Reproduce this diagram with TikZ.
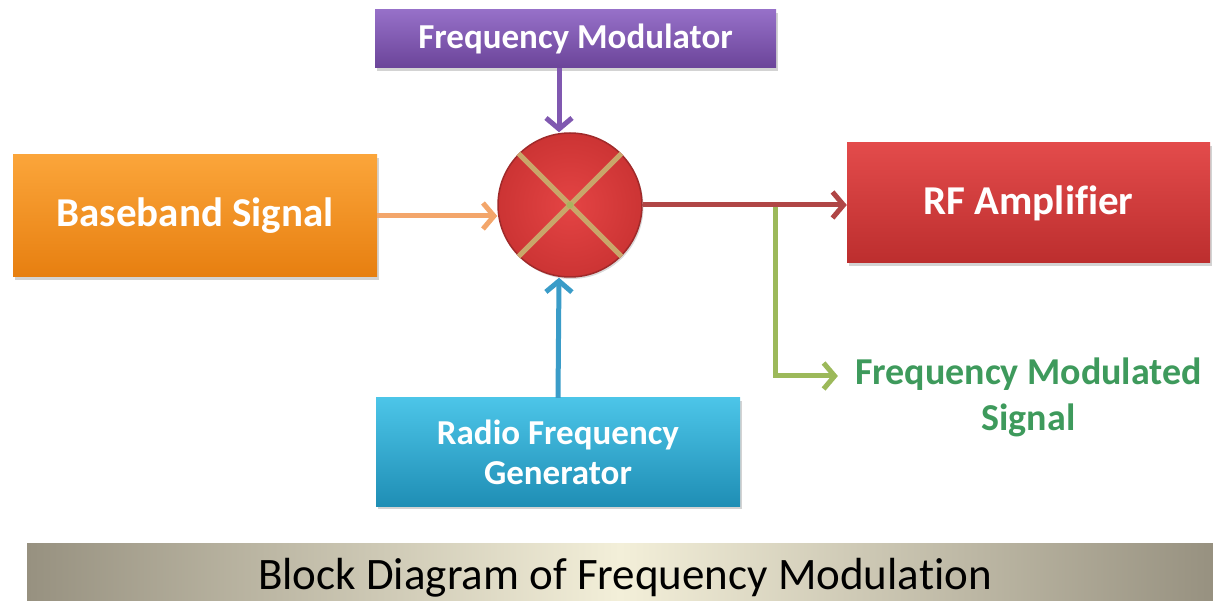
\documentclass[tikz,border=0pt]{standalone}
\usepackage{fontspec}
\setmainfont{Carlito}[Ligatures={NoCommon}]
\usetikzlibrary{arrows.meta,shadows,calc}

% block fills (top / bottom of the gradient)
\definecolor{fmTop}{HTML}{9670C8}
\definecolor{fmBot}{HTML}{6B4499}
\definecolor{bbTop}{HTML}{FBA53A}
\definecolor{bbBot}{HTML}{E77F10}
\definecolor{rfTop}{HTML}{E34B4B}
\definecolor{rfBot}{HTML}{BC2E2E}
\definecolor{rgTop}{HTML}{4CC5E8}
\definecolor{rgBot}{HTML}{1F8EB5}
% mixer
\definecolor{mixIn}{HTML}{E44444}
\definecolor{mixOut}{HTML}{CC3434}
\definecolor{mixEdge}{HTML}{A02A2A}
\definecolor{crossCol}{HTML}{C9A66A}
% connectors
\definecolor{fmArrow}{HTML}{8058B0}
\definecolor{bbArrow}{HTML}{F3A66B}
\definecolor{rfArrow}{HTML}{B04646}
\definecolor{rgArrow}{HTML}{3A9CC8}
\definecolor{outArrow}{HTML}{9CB95A}
\definecolor{outText}{HTML}{3E9A5C}
% caption band
\definecolor{bandGrey}{HTML}{979180}
\definecolor{bandLight}{HTML}{F3EFD9}

\begin{document}
\begin{tikzpicture}[x=1pt,y=-1pt,
  block/.style={rectangle, inner sep=0pt, text=white, align=center,
    font=\bfseries\fontsize{38}{42}\selectfont,
    drop shadow={shadow xshift=2pt, shadow yshift=-3pt, opacity=0.35}},
  link/.style={line width=5pt, -{Straight Barb[length=11pt,width=26pt]}},
  crossline/.style={line width=5pt, crossCol}]

\useasboundingbox (0,0) rectangle (1213,601);

% caption band
\fill[left color=bandGrey, right color=bandGrey, middle color=bandLight]
  (27,543) rectangle (1213,601);
\node[font=\fontsize{45}{50}\selectfont, text=black, inner sep=0pt] (title)
  at (625,578) {Block Diagram of Frequency Modulation};

% blocks
\node[block, top color=fmTop, bottom color=fmBot,
      minimum width=401pt, minimum height=58pt,
      font=\bfseries\fontsize{35}{40}\selectfont] (fm) at (575.5,39) {Frequency Modulator};
\node[block, top color=bbTop, bottom color=bbBot,
      minimum width=364pt, minimum height=122pt,
      font=\bfseries\fontsize{41}{46}\selectfont] (base) at (195,216) {Baseband Signal};
\node[block, top color=rfTop, bottom color=rfBot,
      minimum width=363pt, minimum height=120pt,
      font=\bfseries\fontsize{41}{46}\selectfont] (rf) at (1028.5,203) {RF Amplifier};
\node[block, top color=rgTop, bottom color=rgBot,
      minimum width=364pt, minimum height=108pt,
      font=\bfseries\fontsize{35}{40}\selectfont] (rfg) at (558,452) {Radio Frequency\\Generator};

% mixer
\node[circle, minimum size=144pt, inner sep=0pt, draw=mixEdge, line width=1.5pt,
      inner color=mixIn, outer color=mixOut,
      drop shadow={shadow xshift=1.5pt, shadow yshift=-2pt, opacity=0.3}] (mix) at (570,205) {};
\draw[crossline] (mix.45) -- (mix.225);
\draw[crossline] (mix.135) -- (mix.315);
\fill[outArrow!70!crossCol] (mix.center) circle (3.5pt);

% output label
\node[font=\bfseries\fontsize{38}{46}\selectfont, text=outText, align=center, inner sep=0pt]
  (fms) at (1028.5,397) {Frequency Modulated\\Signal};

% connectors
\path (mix.east) -- (mix.east -| rf.west) coordinate[pos=0.65] (tap);
\draw[link, fmArrow] ([xshift=-16.5pt]fm.south) -- ([xshift=-11pt]mix.north);
\draw[link, bbArrow] (base.east) -- (base.east -| mix.west);
\draw[link, rgArrow] (rfg.north) -- ([xshift=-11pt]mix.south);
\draw[link, outArrow] (tap) |- ([xshift=-17pt,yshift=21pt]fms.west);
\draw[link, rfArrow] (mix.east) -- (mix.east -| rf.west);

\end{tikzpicture}
\end{document}
